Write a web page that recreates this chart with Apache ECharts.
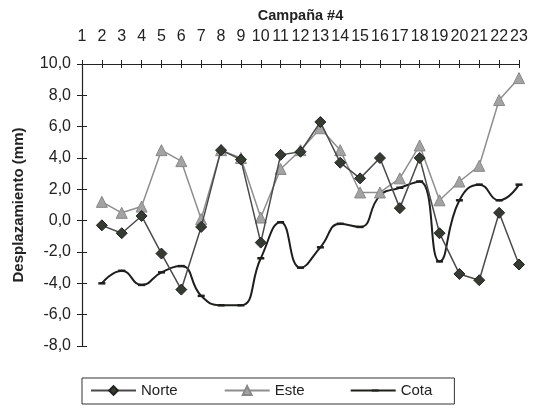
<!DOCTYPE html>
<html><head><meta charset="utf-8">
<script src="https://cdn.jsdelivr.net/npm/echarts@6/dist/echarts.min.js"></script>
<style>html,body{margin:0;padding:0;background:#fff}#c{width:536px;height:412px}</style>
</head><body><div id="c"></div>
<script>
const categories = ['1','2','3','4','5','6','7','8','9','10','11','12','13','14','15','16','17','18','19','20','21','22','23'];
const norte = [null, -0.3, -0.8, 0.3, -2.1, -4.4, -0.4, 4.5, 3.9, -1.4, 4.2, 4.4, 6.3, 3.7, 2.7, 4.0, 0.8, 4.0, -0.8, -3.4, -3.8, 0.5, -2.8];
const este  = [null, 1.2, 0.5, 0.9, 4.5, 3.8, 0.1, 4.5, 4.0, 0.2, 3.3, 4.5, 5.9, 4.5, 1.8, 1.8, 2.7, 4.8, 1.3, 2.5, 3.5, 7.7, 9.1];
const cota  = [null, -4.0, -3.2, -4.1, -3.3, -2.9, -4.8, -5.4, -5.4, -2.4, -0.1, -3.0, -1.7, -0.2, -0.4, 1.6, 2.1, 2.5, -2.6, 1.3, 2.3, 1.3, 2.3];
const yMin = -8, yMax = 10, yStep = 2;
const FONT = 'Liberation Sans, Arial, sans-serif';

const chart = echarts.init(document.getElementById('c'));
const axisLineStyle = {color: '#222', width: 1.2};
chart.setOption({
  backgroundColor: '#fff',
  animation: false,
  textStyle: {fontFamily: FONT},
  grid: {left: 82, right: 17, top: 64, bottom: 66},
  legend: {
    left: 82, top: 378,
    padding: [5, 22, 6, 8],
    borderColor: '#333', borderWidth: 1,
    itemWidth: 45, itemHeight: 11, itemGap: 46,
    textStyle: {fontSize: 15, color: '#222', fontFamily: FONT},
    data: ['Norte', 'Este', {name: 'Cota', icon: 'path://M0,0L0,0M0,4.6H45V6.4H0ZM21,4.2H28V6.8H21ZM45,11L45,11'}]
  },
  xAxis: [{
    type: 'category', data: categories, position: 'top', boundaryGap: false,
    name: 'Campaña #4', nameLocation: 'middle', nameGap: 41,
    nameTextStyle: {fontWeight: 'bold', fontSize: 14.5, color: '#222', fontFamily: FONT},
    axisLine: {onZero: false, lineStyle: axisLineStyle},
    axisTick: {show: true, length: 4, lineStyle: {color: '#222'}, alignWithLabel: true},
    axisLabel: {fontSize: 16, color: '#222', margin: 19, interval: 0},
    splitLine: {show: false}
  }, {
    type: 'category', data: categories, position: 'top', boundaryGap: false,
    axisLine: {show: false, onZero: false},
    axisTick: {show: true, inside: true, length: 4, lineStyle: {color: '#222'}},
    axisLabel: {show: false}, splitLine: {show: false}
  }],
  yAxis: [{
    type: 'value', min: yMin, max: yMax, interval: yStep,
    name: 'Desplazamiento (mm)', nameLocation: 'middle', nameGap: 56, nameRotate: 90,
    nameTextStyle: {fontWeight: 'bold', fontSize: 15, color: '#222', fontFamily: FONT},
    axisLine: {show: true, onZero: false, lineStyle: axisLineStyle},
    axisTick: {show: true, length: 5, lineStyle: {color: '#222'}},
    axisLabel: {fontSize: 16, color: '#222', margin: 11, formatter: v => v.toFixed(1).replace('.', ',')},
    splitLine: {show: false}
  }, {
    type: 'value', min: yMin, max: yMax, interval: yStep, position: 'left',
    axisLine: {show: false, onZero: false},
    axisTick: {show: true, inside: true, length: 5, lineStyle: {color: '#222'}},
    axisLabel: {show: false}, splitLine: {show: false}
  }],
  series: [{
    name: 'Norte', type: 'line', data: norte, xAxisIndex: 0, yAxisIndex: 0,
    symbol: 'diamond', symbolSize: 11, showAllSymbol: true,
    lineStyle: {color: '#4a4a4a', width: 1.5},
    itemStyle: {color: '#353b33', borderColor: '#222', borderWidth: 1},
    z: 4
  }, {
    name: 'Este', type: 'line', data: este, xAxisIndex: 0, yAxisIndex: 0,
    symbol: 'triangle', symbolSize: 11, showAllSymbol: true,
    lineStyle: {color: '#8e8e8e', width: 1.5},
    itemStyle: {color: '#a3a3a3', borderColor: '#888', borderWidth: 1},
    z: 3
  }, {
    name: 'Cota', type: 'line', data: cota, xAxisIndex: 0, yAxisIndex: 0,
    smooth: 0.5, symbol: 'rect', symbolSize: [7, 2.5], showAllSymbol: true,
    lineStyle: {color: '#1c1f1b', width: 2},
    itemStyle: {color: '#1c1f1b'},
    z: 2
  }]
});
</script></body></html>
